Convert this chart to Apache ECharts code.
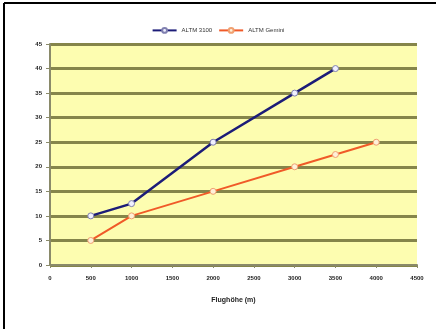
<!DOCTYPE html>
<html>
<head>
<meta charset="utf-8">
<script src="https://cdn.jsdelivr.net/npm/echarts@6/dist/echarts.min.js"></script>
<style>
	html, body { margin: 0; padding: 0; background: #fff; }
	#main { width: 436px; height: 329px; }
</style>
</head>
<body>
<div id="main"></div>
<script>
	// values
	var seriesNames = ['ALTM 3100', 'ALTM Gemini'];
	var heights3100 = [500, 1000, 2000, 3000, 3500];
	var values3100 = [10, 12.5, 25, 35, 40];
	var heightsGemini = [500, 1000, 2000, 3000, 3500, 4000];
	var valuesGemini = [5, 10, 15, 20, 22.5, 25];
	var xTicks = [0, 4500, 500];
	var yTicks = [0, 45, 5];

	var pairs = function (xs, ys) {
		var res = [];
		xs.forEach(function (x, i) { res.push([x, ys[i]]); });
		return res;
	};

	var axisText = { color: '#222', fontSize: 6, fontWeight: 'bold', fontFamily: 'Liberation Sans' };

	var option = {
		animation: false,
		backgroundColor: '#fff',
		graphic: [
			{ type: 'line', shape: { x1: 4, y1: 3, x2: 436, y2: 3 }, style: { stroke: '#000', lineWidth: 2 } },
			{ type: 'line', shape: { x1: 4, y1: 3, x2: 4, y2: 329 }, style: { stroke: '#000', lineWidth: 2 } }
		],
		legend: {
			top: 22,
			left: 'center',
			itemWidth: 24,
			itemHeight: 6,
			itemGap: 6,
			textStyle: { fontSize: 6, color: '#333', fontFamily: 'Liberation Sans' },
			data: seriesNames
		},
		grid: { left: 50, right: 19, top: 44, bottom: 64, backgroundColor: '#fdfdb0', show: true, borderWidth: 0 },
		xAxis: {
			type: 'value',
			min: xTicks[0], max: xTicks[1], interval: xTicks[2],
			name: 'Flughöhe (m)',
			nameLocation: 'middle',
			nameGap: 32,
			nameTextStyle: { color: '#222', fontSize: 7, fontWeight: 'bold', fontFamily: 'Liberation Sans' },
			axisLine: { lineStyle: { color: '#8a8a6a', width: 2 } },
			axisTick: { show: true, length: 3, lineStyle: { color: '#8a8a6a' } },
			splitLine: { show: false },
			axisLabel: Object.assign({ margin: 10, formatter: function (v) { return String(v); } }, axisText)
		},
		yAxis: {
			type: 'value',
			min: yTicks[0], max: yTicks[1], interval: yTicks[2],
			axisLine: { show: true, lineStyle: { color: '#8a8a6a', width: 2 } },
			axisTick: { show: true, length: 4, lineStyle: { color: '#8a8a6a' } },
			splitLine: { show: true, lineStyle: { color: '#85854a', width: 3 } },
			axisLabel: Object.assign({ margin: 8 }, axisText)
		},
		series: [{
			name: seriesNames[0],
			type: 'line',
			data: pairs(heights3100, values3100),
			symbol: 'circle',
			symbolSize: 6,
			lineStyle: { color: '#1c1c78', width: 2.5 },
			itemStyle: { color: '#f0f0ff', borderColor: '#8080b0', borderWidth: 1 }
		}, {
			name: seriesNames[1],
			type: 'line',
			data: pairs(heightsGemini, valuesGemini),
			symbol: 'circle',
			symbolSize: 6,
			lineStyle: { color: '#f05a28', width: 2 },
			itemStyle: { color: '#fff0d8', borderColor: '#f0a070', borderWidth: 1 }
		}]
	};

	var myChart = echarts.init(document.getElementById('main'));
	myChart.setOption(option);
</script>
</body>
</html>
